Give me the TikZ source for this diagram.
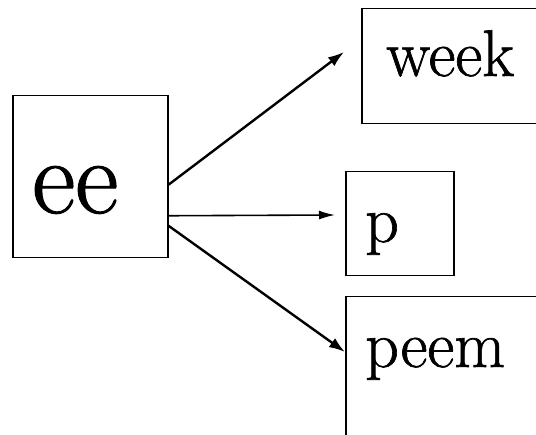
\documentclass[tikz,border=0pt]{standalone}
\usepackage{fontspec}
\newfontfamily\lmr{Latin Modern Roman}[FakeBold=1]
\usetikzlibrary{arrows.meta,calc}
\begin{document}
\begin{tikzpicture}[x=1pt,y=-1pt,
  box/.style={draw=black,line width=1.5pt,minimum width=#1,inner sep=0pt,rectangle,anchor=north west},
  lbl/.style={anchor=base west,inner sep=0pt,text=black},
  conn/.style={line width=2.4pt,-{Latex[length=16pt,width=11pt]}},
  thinconn/.style={line width=1.6pt,-{Latex[length=16pt,width=9pt]}}]
\useasboundingbox (0,0) rectangle (536,435);
\clip (0,0) rectangle (536,435);
\node[box=155pt,minimum height=162pt] (ee) at (12,95) {};
\node[box=200pt,minimum height=115pt] (week) at (361,8) {};
\node[box=108pt,minimum height=104pt] (p) at (345,171) {};
\node[box=200pt,minimum height=160pt] (peem) at (345,296) {};
\node[lbl,font=\lmr\fontsize{106}{106}\selectfont] (eet) at (32,213) {ee};
\node[lbl,font=\lmr\fontsize{66}{66}\selectfont] (weekt) at (386,76) {week};
\node[lbl,font=\lmr\fontsize{66}{66}\selectfont] (pt) at (365,242) {p};
\node[lbl,font=\lmr\fontsize{66}{66}\selectfont] (peemt) at (365,367) {peem};
\coordinate (wtip) at ($(week.west |- 0,52)+(-17,0)$);
\coordinate (ptip) at ($(p.west |- 0,215)+(-10,0)$);
\draw[conn] ($(ee.east)+(0,8)$) -- (wtip);
\draw[thinconn] ($(ee.east)+(0,39)$) -- (ptip);
\draw[conn] ($(ee.east)+(0,49)$) -- (peem.west |- 0,352);
\end{tikzpicture}
\end{document}
